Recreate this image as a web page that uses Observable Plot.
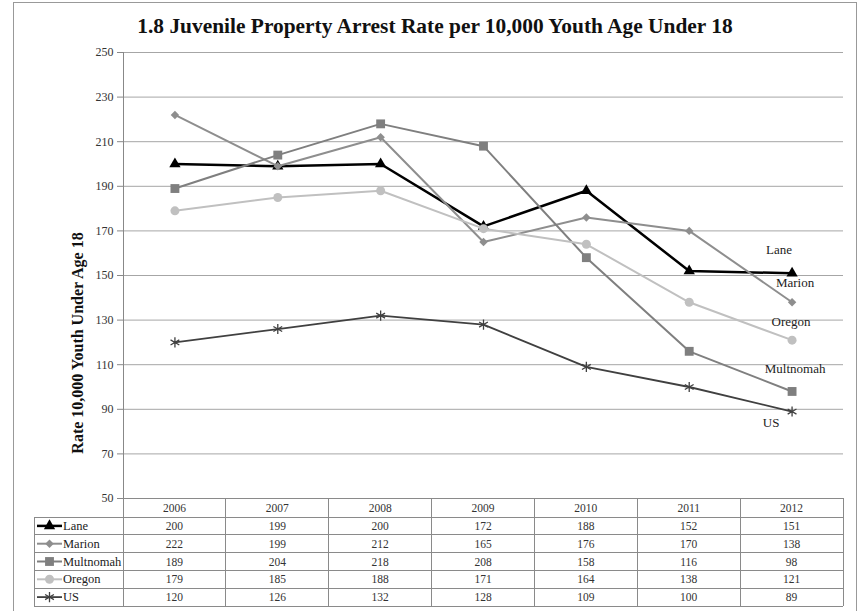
<!DOCTYPE html>
<html><head><meta charset="utf-8">
<script src="https://cdn.jsdelivr.net/npm/d3@7"></script>
<script src="https://cdn.jsdelivr.net/npm/@observablehq/plot@0.6"></script>
<style>
body{margin:0;background:#fff;}
#wrap{position:relative;width:859px;height:611px;overflow:hidden;}
#wrap svg text{font-family:"Liberation Serif","Times New Roman",serif;}
</style>
</head><body><div id="wrap"></div>
<script>
const years = [2006, 2007, 2008, 2009, 2010, 2011, 2012];
const series = ["Lane", "Marion", "Multnomah", "Oregon", "US"];
const lane = [200, 199, 200, 172, 188, 152, 151];
const marion = [222, 199, 212, 165, 176, 170, 138];
const multnomah = [189, 204, 218, 208, 158, 116, 98];
const oregon = [179, 185, 188, 171, 164, 138, 121];
const us = [120, 126, 132, 128, 109, 100, 89];
const yTicks = [50, 70, 90, 110, 130, 150, 170, 190, 210, 230, 250];
const titleText = "1.8 Juvenile Property Arrest Rate per 10,000 Youth Age Under 18";
const yLabel = "Rate 10,000 Youth Under Age 18";

const values = [lane, marion, multnomah, oregon, us];
const data = series.flatMap((s, i) => years.map((yr, j) => ({series: s, year: yr, value: values[i][j]})));

const styles = {
  Lane:      {color: "#000000", width: 2.5, symbol: "triangle", r: 4.2, dx: -13, dy: -23},
  Marion:    {color: "#8e8e8e", width: 2,   symbol: "diamond2", r: 3.8, dx: 3,   dy: -19},
  Multnomah: {color: "#7f7f7f", width: 2,   symbol: "square",   r: 5,   dx: 3,   dy: -23},
  Oregon:    {color: "#c0c0c0", width: 2,   symbol: "circle",   r: 4.5, dx: -1,  dy: -18},
  US:        {color: "#404040", width: 1.8, symbol: "asterisk", r: 4.8, dx: -21, dy: 11}
};
const FONT = "Liberation Serif, Times New Roman, serif";

const seriesMarks = series.flatMap(s => {
  const st = styles[s];
  const d = data.filter(r => r.series === s);
  const last = d.filter(r => r.year === years[years.length - 1]);
  const isStroke = st.symbol === "asterisk";
  return [
    Plot.line(d, {x: "year", y: "value", stroke: st.color, strokeWidth: st.width}),
    Plot.dot(d, {x: "year", y: "value", symbol: st.symbol, r: st.r,
      fill: isStroke ? "none" : st.color, stroke: isStroke ? st.color : "none", strokeWidth: 1.3}),
    Plot.text(last, {x: "year", y: "value", text: "series", dx: st.dx, dy: st.dy,
      fontSize: 13, fontFamily: FONT, fill: "#222", textAnchor: "middle", lineAnchor: "middle"})
  ];
});

const chart = Plot.plot({
  width: 859, height: 611,
  marginLeft: 123, marginRight: 16, marginTop: 52, marginBottom: 113,
  style: {fontFamily: FONT, fontSize: "12px", color: "#333", background: "transparent", overflow: "visible"},
  x: {type: "linear", domain: [2005.5, 2012.5], axis: null},
  y: {domain: [50, 250]},
  marks: [
    Plot.gridY(yTicks, {stroke: "#a6a6a6", strokeOpacity: 1}),
    Plot.ruleX([2005.5], {y1: 50, y2: 250, stroke: "#888"}),
    Plot.axisY(yTicks, {tickSize: 6, tickPadding: 4, fontSize: 12, fontFamily: FONT, stroke: "#888", fill: "#333", label: null}),
    ...seriesMarks
  ]
});
document.getElementById("wrap").appendChild(chart);

// overlay: border, title, y label, data table
const svg = d3.select(chart);
const xs = chart.scale("x");
const colX = d3.range(years.length + 1).map(i => xs.apply(2005.5 + i));
const leftX = 34;
const rowsY = [498, 517, 534.8, 552.6, 570.4, 588.2, 606];
const g = svg.append("g").attr("font-family", FONT).attr("text-anchor", "start");

g.append("rect").attr("x", 13.5).attr("y", 2.5).attr("width", 843).attr("height", 700)
  .attr("fill", "none").attr("stroke", "#999");

g.append("text").attr("x", 435).attr("y", 33).attr("text-anchor", "middle")
  .attr("font-weight", "bold").attr("font-size", 21.4).attr("fill", "#111").text(titleText);

g.append("text").attr("transform", "translate(77.5,343) rotate(-90)").attr("text-anchor", "middle")
  .attr("dominant-baseline", "central").attr("font-weight", "bold").attr("font-size", 16)
  .attr("fill", "#111").text(yLabel);

const tl = g.append("g").attr("stroke", "#8a8a8a").attr("shape-rendering", "crispEdges");
tl.append("line").attr("x1", colX[0]).attr("x2", colX[colX.length - 1]).attr("y1", rowsY[0]).attr("y2", rowsY[0]);
rowsY.slice(1).forEach(y => tl.append("line").attr("x1", leftX).attr("x2", colX[colX.length - 1]).attr("y1", y).attr("y2", y));
tl.append("line").attr("x1", leftX).attr("x2", leftX).attr("y1", rowsY[1]).attr("y2", rowsY[6]);
colX.forEach(x => tl.append("line").attr("x1", x).attr("x2", x).attr("y1", rowsY[0]).attr("y2", rowsY[6]));

years.forEach((yr, i) => {
  g.append("text").attr("x", (colX[i] + colX[i + 1]) / 2).attr("y", (rowsY[0] + rowsY[1]) / 2)
    .attr("text-anchor", "middle").attr("dominant-baseline", "central").attr("font-size", 11.5)
    .attr("fill", "#333").text(yr);
});
const symMap = {triangle: d3.symbolTriangle, diamond2: d3.symbolDiamond2, square: d3.symbolSquare,
  circle: d3.symbolCircle, asterisk: d3.symbolAsterisk};
series.forEach((s, k) => {
  const st = styles[s];
  const cy = (rowsY[k + 1] + rowsY[k + 2]) / 2;
  values[k].forEach((v, i) => {
    g.append("text").attr("x", (colX[i] + colX[i + 1]) / 2).attr("y", cy)
      .attr("text-anchor", "middle").attr("dominant-baseline", "central").attr("font-size", 11.5)
      .attr("fill", "#333").text(v);
  });
  g.append("line").attr("x1", 37).attr("x2", 62).attr("y1", cy).attr("y2", cy)
    .attr("stroke", st.color).attr("stroke-width", st.width);
  const isStroke = st.symbol === "asterisk";
  g.append("path").attr("transform", `translate(49.5,${cy})`)
    .attr("d", d3.symbol(symMap[st.symbol], Math.PI * st.r * st.r)())
    .attr("fill", isStroke ? "none" : st.color).attr("stroke", isStroke ? st.color : "none").attr("stroke-width", 1.3);
  g.append("text").attr("x", 63).attr("y", cy).attr("text-anchor", "start").attr("dominant-baseline", "central")
    .attr("font-size", 12.5).attr("fill", "#222").text(s);
});
</script>
</body></html>
